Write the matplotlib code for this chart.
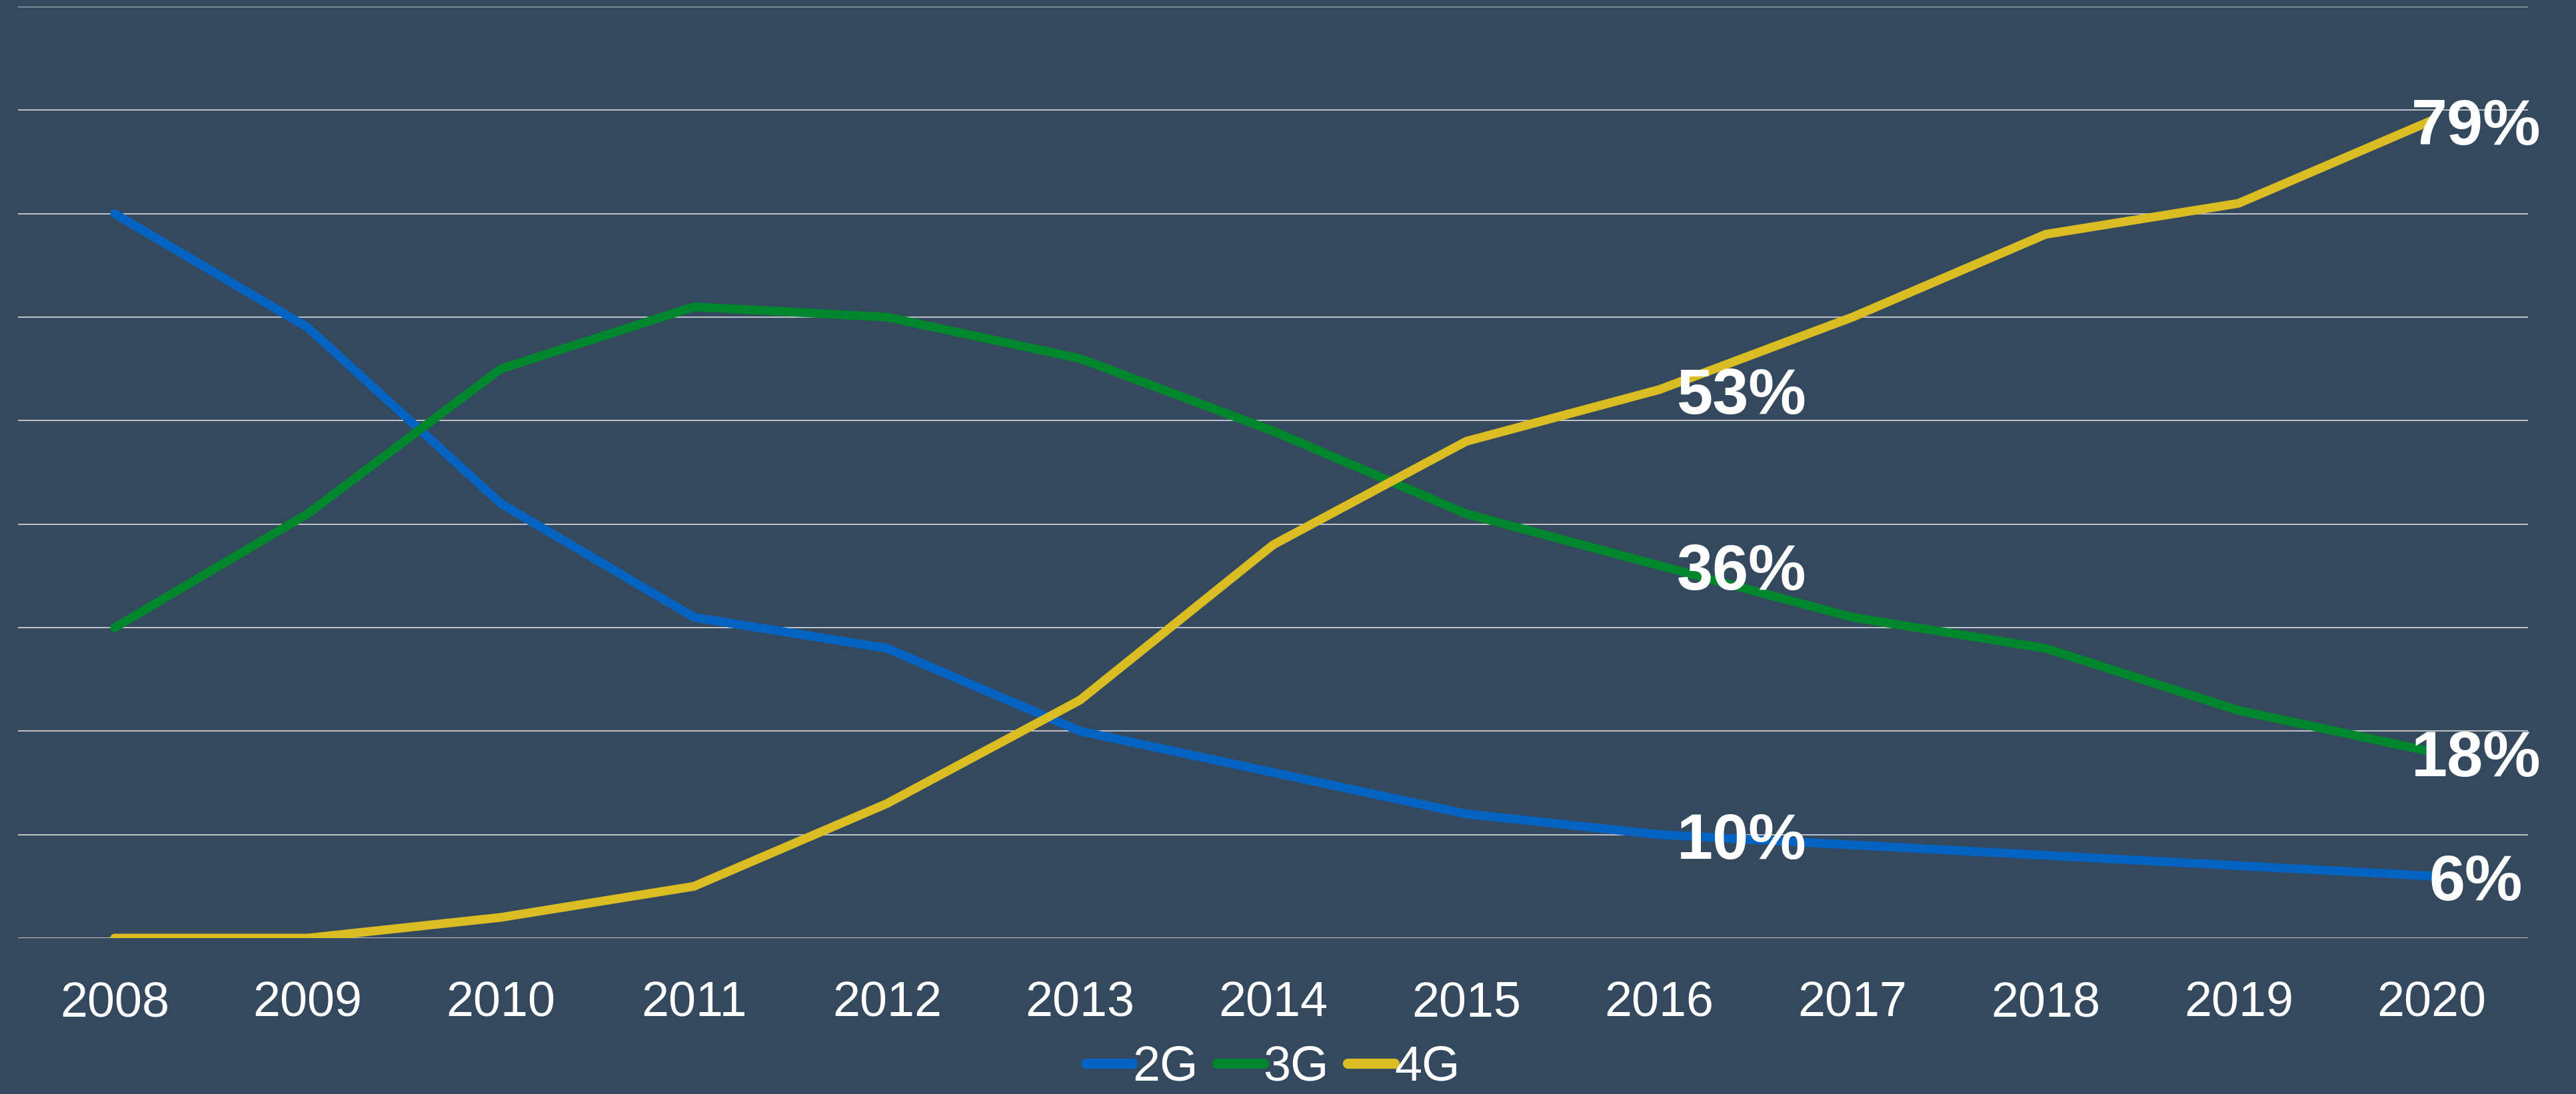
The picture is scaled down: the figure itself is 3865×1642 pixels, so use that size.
import matplotlib
matplotlib.use('Agg')
import matplotlib.pyplot as plt

plt.rcParams['font.family'] = ['Liberation Sans', 'DejaVu Sans']

years = ['2008', '2009', '2010', '2011', '2012', '2013', '2014',
         '2015', '2016', '2017', '2018', '2019', '2020']
share_2g = [70, 59, 42, 31, 28, 20, 16, 12, 10, 9, 8, 7, 6]
share_3g = [30, 41, 55, 61, 60, 56, 49, 41, 36, 31, 28, 22, 18]
share_4g = [0, 0, 2, 5, 13, 23, 38, 48, 53, 60, 68, 71, 79]
series_names = ['2G', '3G', '4G']
labelled_years = ['2016', '2020']

BG = '#34495E'
colors = ['#0563C1', '#00862C', '#DABD22']

fig = plt.figure(figsize=(38.66, 16.42), dpi=100, facecolor=BG)
ax = fig.add_axes([0.007, 0.1425, 0.9742, 0.8514])
ax.set_facecolor(BG)

x = list(range(len(years)))
for vals, name, col in zip([share_2g, share_3g, share_4g], series_names, colors):
    ax.plot(x, vals, color=col, lw=9.5, label=name,
            solid_capstyle='round', solid_joinstyle='round', zorder=3)

# data labels for 2016 and 2020
for vals in [share_2g, share_3g, share_4g]:
    for yr in labelled_years:
        i = years.index(yr)
        if yr == '2020':
            xpos, ha = i + 0.23, 'center'
        else:
            xpos, ha = i + 0.09, 'left'
        ax.annotate(f'{vals[i]}%', (xpos, vals[i]), xytext=(0, -8),
                    textcoords='offset points', ha=ha, va='center',
                    color='white', fontsize=70, fontweight='bold', zorder=5)

ax.set_xlim(-0.5, len(years) - 0.5)
ax.set_ylim(0, 90)
ax.set_yticks(range(0, 91, 10))
ax.set_xticks(x, years)
ax.tick_params(axis='y', left=False, labelleft=False)
ax.tick_params(axis='x', bottom=False, labelsize=53, labelcolor='white', pad=42)
ax.grid(axis='y', color='#D9D9D9', lw=1.2, zorder=0)
for sp in ax.spines.values():
    sp.set_visible(False)

leg = fig.legend(loc='center', bbox_to_anchor=(0.494, 0.0244), ncol=3,
                 frameon=False, fontsize=53, handlelength=0.95,
                 handletextpad=0.0, columnspacing=0.38, borderpad=0)
for t in leg.get_texts():
    t.set_color('white')
for h in leg.get_lines():
    h.set_linewidth(11)
    h.set_solid_capstyle('round')

fig.savefig('out.png', dpi=100, facecolor=BG)
